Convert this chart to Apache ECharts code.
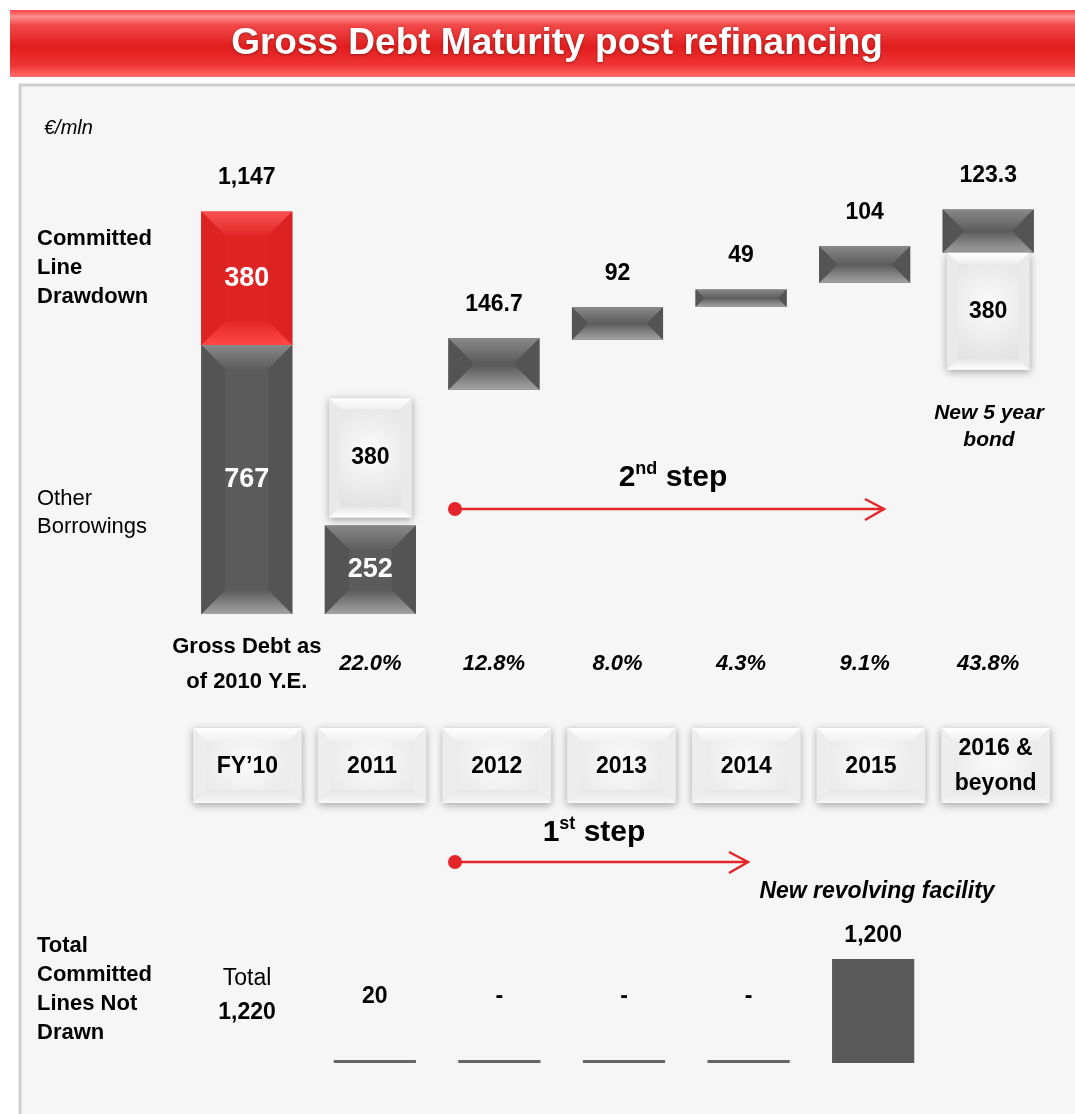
<!DOCTYPE html>
<html>
<head>
<meta charset="utf-8">
<title>Gross Debt Maturity post refinancing</title>
<script src="https://cdn.jsdelivr.net/npm/echarts@6/dist/echarts.min.js"></script>
<style>
  html, body { margin: 0; padding: 0; background: #fff; }
  #chart { width: 1075px; height: 1114px; }
</style>
</head>
<body>
<div id="chart"></div>
<script>
const FONT = '"Liberation Sans", Arial, Helvetica, sans-serif';

// categories and labels
const categories = ['FY\u201910', '2011', '2012', '2013', '2014', '2015', '2016 &\nbeyond'];
const shareOfDebt = ['', '22.0%', '12.8%', '8.0%', '4.3%', '9.1%', '43.8%'];
const fy10Caption = ['Gross Debt as', 'of 2010 Y.E.'];

// FY'10 gross debt (stacked)
const grossDebtFY10 = 1147;
const otherBorrowings = 767;
const committedDrawdown = 380;

// maturities by year, with the level each block starts from (as drawn)
const maturities = [null, 252, 146.7, 92, 49, 104, 123.3];
const maturityBase = [null, 0, 639, 782, 876, 944, 1030];

// refinanced amounts (white blocks), drawn extent
const refinanced = [null, 380, null, null, null, null, 380];
const refinancedLow = [null, 275, null, null, null, null, 696];
const refinancedHigh = [null, 615, null, null, null, null, 1030];

// committed lines not drawn
const undrawnLines = [null, 20, 0, 0, 0, 1200, null];
const undrawnLabels = ['', '20', '-', '-', '-', '1,200', ''];
const undrawnTotal = 1220;

const fmt = v => v.toLocaleString('en-US');

const debtItems = [];
debtItems.push({ cat: 0, low: 0, high: otherBorrowings, kind: 'grey', inside: fmt(otherBorrowings) });
debtItems.push({ cat: 0, low: otherBorrowings, high: otherBorrowings + committedDrawdown, kind: 'red',
  inside: fmt(committedDrawdown), top: fmt(grossDebtFY10) });
maturities.forEach((v, i) => {
  if (v == null) return;
  const base = maturityBase[i];
  debtItems.push({ cat: i, low: base, high: base + v, kind: 'grey',
    inside: base === 0 ? fmt(v) : null, top: base === 0 ? null : fmt(v) });
});
refinanced.forEach((v, i) => {
  if (v == null) return;
  debtItems.push({ cat: i, low: refinancedLow[i], high: refinancedHigh[i], kind: 'white', inside: fmt(v) });
});

function vgrad(c0, c1) {
  return new echarts.graphic.LinearGradient(0, 0, 0, 1, [
    { offset: 0, color: c0 }, { offset: 1, color: c1 }
  ]);
}
function rgrad(c0, c1) {
  return new echarts.graphic.RadialGradient(0.5, 0.45, 0.7, [
    { offset: 0, color: c0 }, { offset: 1, color: c1 }
  ]);
}

const palettes = {
  grey: { base: '#5b5b5b', top: ['#888888', '#5d5d5d'], bottom: ['#5b5b5b', '#a3a3a3'], side: '#545454', bevel: 24 },
  red: { base: '#e02424', top: ['#f75252', '#e22929'], bottom: ['#e12626', '#ff4848'], side: '#dd2222', bevel: 24 },
  white: { base: ['#fbfbfb', '#e2e2e2'], top: ['#ffffff', '#efefef'], bottom: ['#e6e6e6', '#ffffff'], side: '#e9e9e9', bevel: 11, shadow: true },
  tab: { base: ['#fafafa', '#e8e8e8'], top: ['#ffffff', '#f1f1f1'], bottom: ['#e6e6e6', '#f7f7f7'], side: '#ededed', bevel: 13, shadow: true }
};

function bevelBox(x, y, w, h, pal) {
  const b = Math.min(pal.bevel, w / 2, h / 2);
  const base = Array.isArray(pal.base) ? rgrad(pal.base[0], pal.base[1]) : pal.base;
  return [
    { type: 'rect', shape: { x, y, width: w, height: h },
      style: { fill: base, shadowBlur: pal.shadow ? 8 : 0, shadowColor: 'rgba(0,0,0,0.35)', shadowOffsetY: pal.shadow ? 2 : 0 } },
    { type: 'polygon', shape: { points: [[x, y], [x + w, y], [x + w - b, y + b], [x + b, y + b]] },
      style: { fill: vgrad(pal.top[0], pal.top[1]) } },
    { type: 'polygon', shape: { points: [[x + b, y + h - b], [x + w - b, y + h - b], [x + w, y + h], [x, y + h]] },
      style: { fill: vgrad(pal.bottom[0], pal.bottom[1]) } },
    { type: 'polygon', shape: { points: [[x, y], [x + b, y + b], [x + b, y + h - b], [x, y + h]] },
      style: { fill: pal.side } },
    { type: 'polygon', shape: { points: [[x + w, y], [x + w - b, y + b], [x + w - b, y + h - b], [x + w, y + h]] },
      style: { fill: pal.side } }
  ];
}

function textEl(text, x, y, font, fill) {
  return { type: 'text', style: { text, x, y, font, fill, align: 'center', verticalAlign: 'middle',
    textAlign: 'center', textVerticalAlign: 'middle', lineHeight: 35 } };
}

function renderDebt(params, api) {
  const item = debtItems[params.dataIndex];
  const pal = palettes[item.kind];
  const band = api.size([1, 0])[0];
  const w = band * (item.kind === 'white' ? 0.67 : 0.737);
  const pLow = api.coord([item.cat, item.low]);
  const pHigh = api.coord([item.cat, item.high]);
  const x = pLow[0] - w / 2;
  const y = pHigh[1];
  const h = pLow[1] - pHigh[1];
  const children = bevelBox(x, y, w, h, pal);
  if (item.inside) {
    const dark = item.kind === 'white';
    children.push(textEl(item.inside, pLow[0], y + h / 2,
      dark ? 'bold 23px ' + FONT : 'bold 27px ' + FONT, dark ? '#000' : '#fff'));
  }
  if (item.top) {
    children.push(textEl(item.top, pLow[0], y - 34, 'bold 23px ' + FONT, '#000'));
  }
  return { type: 'group', children };
}

function renderTab(params, api) {
  const i = params.dataIndex;
  const band = api.size([1, 0])[0];
  const w = band * 0.87;
  const pTop = api.coord([i, 1]);
  const pBot = api.coord([i, 0]);
  const x = pTop[0] - w / 2;
  const children = bevelBox(x, pTop[1], w, pBot[1] - pTop[1], palettes.tab);
  children.push(textEl(categories[i], pTop[0], (pTop[1] + pBot[1]) / 2 + 1, 'bold 23px ' + FONT, '#000'));
  return { type: 'group', children };
}

const redArrow = '#e3262a';
function stepArrow(x0, x1, y) {
  return [
    { type: 'line', z: 5, shape: { x1: x0, y1: y, x2: x1, y2: y }, style: { stroke: redArrow, lineWidth: 2.5 } },
    { type: 'circle', z: 5, shape: { cx: x0, cy: y, r: 7 }, style: { fill: redArrow } },
    { type: 'polyline', z: 5, shape: { points: [[x1 - 19, y - 10], [x1, y], [x1 - 19, y + 11]] },
      style: { stroke: redArrow, lineWidth: 2.5, fill: null } }
  ];
}

function label(text, x, y, font, opts) {
  return { type: 'text', z: 5, style: Object.assign({
    text, x, y, font, fill: '#000', align: 'left', verticalAlign: 'top', textAlign: 'left', textVerticalAlign: 'top'
  }, opts || {}) };
}

const chart = echarts.init(document.getElementById('chart'));

const option = {
  backgroundColor: '#ffffff',
  animation: false,
  grid: [
    { left: 185, right: 25, top: 193, height: 421 },
    { left: 188, right: 15, top: 959, height: 104 },
    { left: 185, right: 17, top: 728, height: 75 }
  ],
  xAxis: [
    {
      type: 'category', gridIndex: 0, data: categories,
      axisLine: { show: false }, axisTick: { show: false },
      axisLabel: {
        interval: 0, margin: 50, verticalAlign: 'middle',
        formatter: (value, index) => index === 0
          ? fy10Caption.map(s => '{cap|' + s + '}').join('\n')
          : '{pct|' + shareOfDebt[index] + '}',
        rich: {
          cap: { fontFamily: FONT, fontSize: 22, fontWeight: 'bold', color: '#000', lineHeight: 35 },
          pct: { fontFamily: FONT, fontSize: 22, fontWeight: 'bold', fontStyle: 'italic', color: '#000' }
        }
      }
    },
    { type: 'category', gridIndex: 1, data: categories, show: false },
    { type: 'category', gridIndex: 2, data: categories, show: false }
  ],
  yAxis: [
    { type: 'value', gridIndex: 0, min: 0, max: 1200, show: false },
    { type: 'value', gridIndex: 1, min: 0, max: 1200, show: false },
    { type: 'value', gridIndex: 2, min: 0, max: 1, show: false }
  ],
  series: [
    {
      type: 'custom', name: 'Gross debt', xAxisIndex: 0, yAxisIndex: 0, z: 3,
      data: debtItems.map(d => [d.cat, d.low, d.high]),
      encode: { x: 0, y: [1, 2] },
      renderItem: renderDebt
    },
    {
      type: 'custom', name: 'Years', xAxisIndex: 2, yAxisIndex: 2, z: 3,
      data: categories.map((c, i) => [i, 0, 1]),
      encode: { x: 0, y: [1, 2] },
      renderItem: renderTab
    },
    {
      type: 'bar', name: 'Committed lines not drawn', xAxisIndex: 1, yAxisIndex: 1,
      barWidth: '66%', barMinHeight: 3,
      data: undrawnLines.map(v => v == null ? null : {
        value: v,
        itemStyle: { color: v >= 100 ? '#595959' : '#666666' },
        label: { distance: v >= 100 ? 12 : 52 }
      }),
      label: {
        show: true, position: 'top', color: '#000',
        fontFamily: FONT, fontSize: 23, fontWeight: 'bold',
        formatter: p => undrawnLabels[p.dataIndex]
      }
    }
  ],
  graphic: [
    // content frame
    { type: 'rect', z: -10, shape: { x: 20, y: 85, width: 1070, height: 1040 },
      style: { fill: '#f6f6f6', stroke: '#cfcfcf', lineWidth: 3 } },
    // title banner
    { type: 'rect', z: -5, shape: { x: 10, y: 10, width: 1080, height: 67 },
      style: { fill: new echarts.graphic.LinearGradient(0, 0, 0, 1, [
        { offset: 0, color: '#ff4444' },
        { offset: 0.1, color: '#ff8e8e' },
        { offset: 0.22, color: '#f24a4a' },
        { offset: 0.55, color: '#e21d1d' },
        { offset: 0.82, color: '#ef3434' },
        { offset: 1, color: '#ff6b6b' }
      ]) } },
    { type: 'text', z: 5, style: {
      text: 'Gross Debt Maturity post refinancing', x: 557, y: 44, fill: '#fff',
      font: 'bold 37px ' + FONT, align: 'center', verticalAlign: 'middle',
      textAlign: 'center', textVerticalAlign: 'middle',
      textShadowBlur: 3, textShadowColor: 'rgba(0,0,0,0.35)', textShadowOffsetY: 1 } },

    label('\u20ac/mln', 44, 118, 'italic 20px ' + FONT),
    label('Committed\nLine\nDrawdown', 37, 224, 'bold 22px ' + FONT, { lineHeight: 29 }),
    label('Other\nBorrowings', 37, 485, '22px ' + FONT, { lineHeight: 28 }),
    label('Total\nCommitted\nLines Not\nDrawn', 37, 931, 'bold 22px ' + FONT, { lineHeight: 29 }),
    label('New 5 year\nbond', 989, 400, 'italic bold 21px ' + FONT,
      { lineHeight: 27, align: 'center', textAlign: 'center' }),
    label('New revolving facility', 877, 892, 'italic bold 23px ' + FONT,
      { align: 'center', textAlign: 'center', verticalAlign: 'middle', textVerticalAlign: 'middle' }),
    { type: 'text', z: 5, style: {
      text: '{n|Total}\n{b|' + fmt(undrawnTotal) + '}', x: 247, y: 996,
      align: 'center', verticalAlign: 'middle', textAlign: 'center', textVerticalAlign: 'middle',
      rich: {
        n: { font: '23px ' + FONT, fill: '#000', lineHeight: 34, align: 'center' },
        b: { font: 'bold 23px ' + FONT, fill: '#000', lineHeight: 34, align: 'center' }
      } } },

    // step annotations
    { type: 'text', z: 5, style: {
      text: '{m|2}{s|nd}{m| step}', x: 673, y: 478,
      align: 'center', verticalAlign: 'middle', textAlign: 'center', textVerticalAlign: 'middle',
      rich: {
        m: { font: 'bold 30px ' + FONT, fill: '#000', lineHeight: 36 },
        s: { font: 'bold 18px ' + FONT, fill: '#000', lineHeight: 20, verticalAlign: 'top' }
      } } },
    ...stepArrow(455, 884, 509),
    { type: 'text', z: 5, style: {
      text: '{m|1}{s|st}{m| step}', x: 594, y: 833,
      align: 'center', verticalAlign: 'middle', textAlign: 'center', textVerticalAlign: 'middle',
      rich: {
        m: { font: 'bold 30px ' + FONT, fill: '#000', lineHeight: 36 },
        s: { font: 'bold 18px ' + FONT, fill: '#000', lineHeight: 20, verticalAlign: 'top' }
      } } },
    ...stepArrow(455, 748, 862)
  ]
};

chart.setOption(option);
window.addEventListener('resize', () => chart.resize());
</script>
</body>
</html>
